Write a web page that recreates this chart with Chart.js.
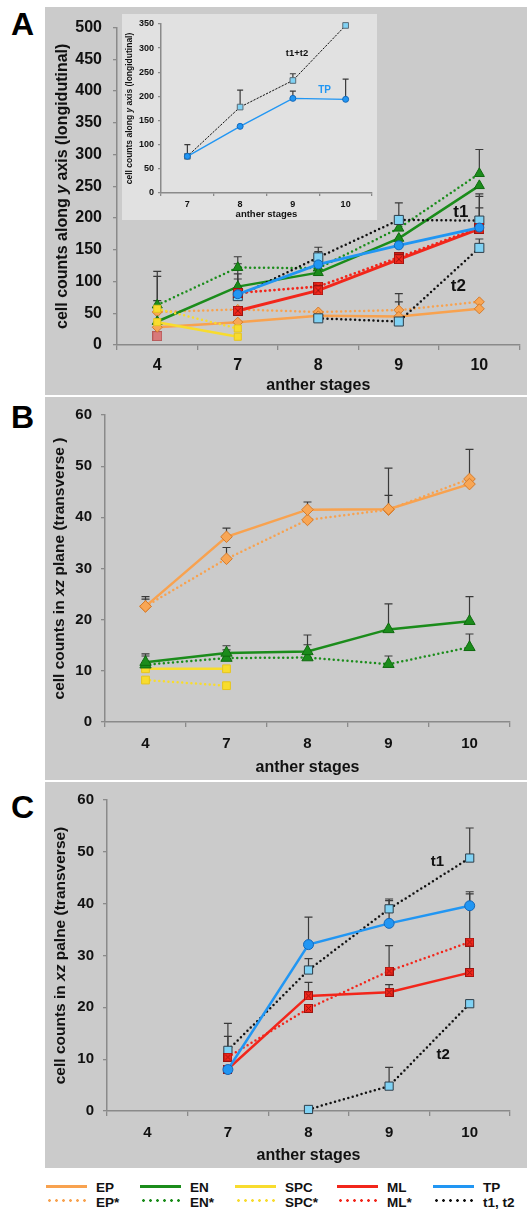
<!DOCTYPE html>
<html lang="en">
<head>
<meta charset="UTF-8" />
<title>Anther cell counts</title>
<script src="https://cdn.jsdelivr.net/npm/chart.js"></script>
<style>
  body { margin:0; background:#fff; width:527px; height:1210px; position:relative; overflow:hidden; font-family:"Liberation Sans", Arial, sans-serif; }
  .panel { position:absolute; left:45px; width:482px; background:#cbcbcb; }
  .panel canvas { display:block; position:absolute; left:0; top:0; }
  #inset { position:absolute; left:77px; top:7px; width:255px; height:206px; background:#e1e1e1; }
  .letter { position:absolute; left:11px; font-weight:bold; font-size:32px; line-height:1; color:#000; }
  .leg { position:absolute; font-size:13.5px; font-weight:bold; line-height:1; color:#111; }
  .sw { position:absolute; width:41px; height:3px; }
</style>
</head>
<body>

<div class="letter" style="top:8px">A</div>
<div class="letter" style="top:401px">B</div>
<div class="letter" style="top:791px">C</div>

<div class="panel" style="top:7px;height:388px">
  <canvas id="chartA" width="482" height="388"></canvas>
  <div id="inset"><canvas id="chartInset" width="255" height="206"></canvas></div>
</div>
<div class="panel" style="top:397px;height:383px">
  <canvas id="chartB" width="482" height="383"></canvas>
</div>
<div class="panel" style="top:782px;height:386px">
  <canvas id="chartC" width="482" height="386"></canvas>
</div>

<!-- legend -->
<div id="legend"></div>

<script>
  const FONT = '"Liberation Sans", Arial, sans-serif';

  const stages = ['4', '7', '8', '9', '10'];
  const insetStages = ['7', '8', '9', '10'];

  // Panel A: cell counts along y axis (longitudinal)
  const epA      = [28, 36, 46, 45, 57];
  const epStarA  = [52, 56, 52, 55, 68];
  const enA      = [37, 92, 114, 168, 251];
  const enStarA  = [63, 122, 121, 184, 270];
  const spcA     = [36, 13, null, null, null];
  const spcStarA = [57, 26, null, null, null];
  const mlA      = [null, 54, 86, 135, 183];
  const mlStarA  = [null, 82, 92, 138, 185];
  const mlEarlyA = [14, null, null, null, null];
  const tpA      = [null, 80, 127, 157, 185];
  const t1A      = [null, 77, 138, 197, 196];
  const t2A      = [null, null, 42, 37, 153];
  // upper ends of the error bars
  const enStarErrA = [116, 139, null, null, 308];
  const spcErrA    = [108, null, null, null, null];
  const enErrA     = [70, 128, null, null, null];
  const tpErrA     = [null, 112, 147, null, 216];
  const t1ErrA     = [null, 104, 154, 224, 238];
  const t2ErrA     = [null, null, null, 81, 167];
  const epErrA     = [null, null, null, 68, null];
  const mlErrA     = [null, null, null, null, 234];

  // inset: TP vs t1+t2
  const tpInset     = [76, 138, 196, 194];
  const tpInsetErr  = [100, null, 211, 236];
  const t12Inset    = [76, 178, 233, 347];
  const t12InsetErr = [null, 213, 247, null];

  // Panel B: cell counts in xz plane
  const epB         = [22.6, 36.2, 41.5, 41.6, 46.5];
  const epErrB      = [24.5, 37.9, 43.0, 49.6, 53.3];
  const epStarB     = [22.6, 31.9, 39.5, 41.5, 47.5];
  const epStarErrB  = [24.0, 34.1, null, 44.3, null];
  const enB         = [11.7, 13.5, 13.8, 18.1, 19.7];
  const enErrB      = [13.3, 14.9, 17.0, 23.1, 24.5];
  const enStarB     = [11.2, 12.5, 12.6, 11.3, 14.6];
  const enStarErrB  = [12.9, 14.1, 15.1, 12.9, 17.2];
  const spcB        = [10.4, 10.4, null, null, null];
  const spcStarB    = [8.2, 7.1, null, null, null];

  // Panel C: cell counts in xz plane
  const tpC        = [null, 8.0, 32.1, 36.2, 39.6];
  const tpErrC     = [null, null, 37.4, 40.6, 42.3];
  const mlC        = [null, 8.1, 22.2, 22.9, 26.7];
  const mlErrC     = [null, null, 24.8, 24.4, 41.9];
  const mlStarC    = [null, 10.4, 19.8, 27.0, 32.6];
  const mlStarErrC = [null, 14.4, null, 31.9, null];
  const t1C        = [null, 11.7, 27.2, 39.0, 48.8];
  const t1ErrC     = [null, 16.9, 29.4, 40.9, 54.6];
  const t2C        = [null, null, 0.3, 4.8, 20.7];
  const t2ErrC     = [null, null, null, 8.4, null];

  const C = {
    ep: '#f8a24f', epFill: '#f8a655', epEdge: '#d47a2a',
    en: '#1b8c1b', enEdge: '#0e6a0e',
    spc: '#f8dc2e', spcEdge: '#e6c51d',
    ml: '#f2261b', mlEdge: '#9c1410',
    tp: '#2196f3', tpEdge: '#1467b8',
    t: '#111111', tFill: '#80d2f4', tEdge: '#2e3d48',
    axis: '#8a8a8a', err: '#3a3a3a'
  };

  // small square marker, optionally crossed (ML)
  function boxMark(size, fill, edge, cross) {
    const c = document.createElement('canvas');
    c.width = c.height = size;
    const g = c.getContext('2d');
    g.fillStyle = fill;
    g.fillRect(0, 0, size, size);
    g.strokeStyle = edge;
    g.lineWidth = 1;
    g.strokeRect(0.5, 0.5, size - 1, size - 1);
    if (cross) {
      g.beginPath();
      g.moveTo(2, 2); g.lineTo(size - 2, size - 2);
      g.moveTo(size - 2, 2); g.lineTo(2, size - 2);
      g.stroke();
    }
    return c;
  }

  // error bars (upper only), drawn under the markers
  Chart.register({
    id: 'errorBars',
    beforeDatasetsDraw(chart) {
      const ctx = chart.ctx, ys = chart.scales.y;
      chart.data.datasets.forEach((ds, i) => {
        if (!ds.errTop) return;
        const meta = chart.getDatasetMeta(i);
        const cap = ds.errCap || 4;
        ctx.save();
        ctx.strokeStyle = C.err;
        ctx.lineWidth = ds.errWidth || 1.2;
        ds.errTop.forEach((top, k) => {
          if (top == null || ds.data[k] == null) return;
          const px = meta.data[k].x;
          const y0 = ys.getPixelForValue(ds.data[k]);
          const y1 = ys.getPixelForValue(top);
          ctx.beginPath();
          ctx.moveTo(px, y0); ctx.lineTo(px, y1);
          ctx.moveTo(px - cap, y1); ctx.lineTo(px + cap, y1);
          ctx.stroke();
        });
        ctx.restore();
      });
    }
  });

  // rotated y title with an italic part
  function yTitle(parts, x, size) {
    return {
      id: 'yTitle',
      afterDraw(chart) {
        const ctx = chart.ctx, a = chart.chartArea;
        ctx.save();
        ctx.translate(x, (a.top + a.bottom) / 2);
        ctx.rotate(-Math.PI / 2);
        ctx.fillStyle = '#111';
        ctx.textBaseline = 'middle';
        ctx.textAlign = 'left';
        const fonts = parts.map(p => (p.i ? 'italic ' : '') + 'bold ' + size + 'px ' + FONT);
        let total = 0;
        const widths = parts.map((p, k) => { ctx.font = fonts[k]; const w = ctx.measureText(p.t).width; total += w; return w; });
        let cx = -total / 2;
        parts.forEach((p, k) => { ctx.font = fonts[k]; ctx.fillText(p.t, cx, 0); cx += widths[k]; });
        ctx.restore();
      }
    };
  }

  // text labels placed in data coordinates
  function textMarks(marks) {
    return {
      id: 'textMarks',
      afterDatasetsDraw(chart) {
        const ctx = chart.ctx, xs = chart.scales.x, ys = chart.scales.y;
        marks.forEach(m => {
          ctx.save();
          ctx.font = 'bold ' + m.size + 'px ' + FONT;
          ctx.fillStyle = m.color || '#111';
          ctx.textAlign = 'center';
          ctx.textBaseline = 'middle';
          ctx.fillText(m.text, xs.getPixelForValue(m.at[0]), ys.getPixelForValue(m.at[1]));
          ctx.restore();
        });
      }
    };
  }

  function series(data, color, o) {
    const ds = {
      data: data,
      borderColor: color,
      borderWidth: o.width || 2.5,
      pointStyle: o.point || 'circle',
      pointRadius: o.radius || 5,
      pointBackgroundColor: o.fill || color,
      pointBorderColor: o.edge || color,
      pointBorderWidth: 1,
      tension: 0,
      spanGaps: false,
      clip: false,
      errTop: o.err || null,
      errCap: o.cap || 4
    };
    if (o.dotted) {
      ds.borderDash = o.dash || [0, 4.6];
      ds.borderCapStyle = 'round';
    }
    if (o.noLine) ds.showLine = false;
    return ds;
  }

  function frame(f) {
    const tickFont = { family: FONT, size: f.tick, weight: 'bold' };
    return {
      responsive: false,
      animation: false,
      events: [],
      layout: { padding: { top: f.top, right: f.right, left: 0, bottom: 0 } },
      plugins: { legend: { display: false }, tooltip: { enabled: false } },
      scales: {
        x: {
          offset: true,
          grid: { offset: true, drawOnChartArea: false, tickLength: f.xTickLen, color: C.axis, lineWidth: 1.3 },
          border: { color: C.axis, width: 1.5 },
          ticks: { font: tickFont, color: '#111', padding: f.xPad, maxRotation: 0 },
          title: { display: true, text: 'anther stages', color: '#111',
                   font: { family: FONT, size: f.xTitle, weight: 'bold' }, padding: { top: 0, bottom: f.xTitlePad } },
          afterFit(s) { s.height = f.xH; }
        },
        y: {
          min: 0, max: f.max,
          grid: { drawOnChartArea: false, tickLength: f.yTickLen, color: C.axis, lineWidth: 1.3 },
          border: { color: C.axis, width: 1.5 },
          ticks: { stepSize: f.step, font: tickFont, color: '#111', padding: f.yPad },
          afterFit(s) { s.width = f.yW; }
        }
      }
    };
  }

  const mlMarkA = boxMark(10, C.ml, C.mlEdge, true);
  const mlMarkC = boxMark(9, C.ml, C.mlEdge, true);
  const mlEarlyMark = boxMark(10, '#d8797a', '#b55a5a', false);

  // ---------- Panel A ----------
  // first dataset is drawn on top
  new Chart(document.getElementById('chartA'), {
    type: 'line',
    data: {
      labels: stages,
      datasets: [
        series(spcA, C.spc, { point: 'rect', radius: 5, edge: C.spcEdge, err: spcErrA }),
        series(spcStarA, C.spc, { point: 'rect', radius: 5, edge: C.spcEdge, dotted: true }),
        series(tpA, C.tp, { radius: 4.5, edge: C.tpEdge, err: tpErrA, width: 2.8 }),
        series(mlA, C.ml, { point: mlMarkA, err: mlErrA, width: 3 }),
        series(mlStarA, C.ml, { point: mlMarkA, dotted: true, width: 2.8 }),
        series(t1A, C.t, { point: 'rect', radius: 6.4, fill: C.tFill, edge: C.tEdge, dotted: true, err: t1ErrA }),
        series(t2A, C.t, { point: 'rect', radius: 6.4, fill: C.tFill, edge: C.tEdge, dotted: true, err: t2ErrA }),
        series(enA, C.en, { point: 'triangle', radius: 5.8, edge: C.enEdge, err: enErrA }),
        series(enStarA, C.en, { point: 'triangle', radius: 5.8, edge: C.enEdge, dotted: true, err: enStarErrA }),
        series(epA, C.ep, { point: 'rectRot', radius: 5, fill: C.epFill, edge: C.epEdge, err: epErrA }),
        series(epStarA, C.ep, { point: 'rectRot', radius: 5, fill: C.epFill, edge: C.epEdge, dotted: true }),
        series(mlEarlyA, C.ml, { point: mlEarlyMark, noLine: true })
      ]
    },
    options: frame({ top: 18, right: 3, yW: 72, xH: 50, max: 500, step: 50, tick: 16,
                     yPad: 11, yTickLen: 4, xPad: 6, xTickLen: 5, xTitle: 16, xTitlePad: 0 }),
    plugins: [
      yTitle([{ t: 'cell counts along ' }, { t: 'y', i: true }, { t: ' axis (longidutinal)' }], 18, 16),
      textMarks([{ text: 't1', at: [3.77, 209], size: 17 }, { text: 't2', at: [3.74, 92], size: 17 }])
    ]
  });

  // ---------- Inset ----------
  new Chart(document.getElementById('chartInset'), {
    type: 'line',
    data: {
      labels: insetStages,
      datasets: [
        series(tpInset, C.tp, { radius: 3, edge: C.tpEdge, width: 1.4, err: tpInsetErr, cap: 3 }),
        series(t12Inset, C.t, { point: 'rect', radius: 4, fill: C.tFill, edge: '#5a6a74', width: 1,
                                dotted: true, dash: [1.5, 2], err: t12InsetErr, cap: 3 })
      ]
    },
    options: frame({ top: 10, right: 4, yW: 39, xH: 27, max: 350, step: 50, tick: 9,
                     yPad: 4, yTickLen: 3, xPad: 3, xTickLen: 3, xTitle: 9.5, xTitlePad: 0 }),
    plugins: [
      yTitle([{ t: 'cell counts along ' }, { t: 'y', i: true }, { t: ' axis (longidutinal)' }], 8, 8.5),
      textMarks([{ text: 't1+t2', at: [2.08, 290], size: 9.5 }, { text: 'TP', at: [2.6, 213], size: 10, color: C.tp }])
    ]
  });

  // ---------- Panel B ----------
  new Chart(document.getElementById('chartB'), {
    type: 'line',
    data: {
      labels: stages,
      datasets: [
        series(enB, C.en, { point: 'triangle', radius: 6.5, edge: C.enEdge, err: enErrB }),
        series(enStarB, C.en, { point: 'triangle', radius: 6.5, edge: C.enEdge, dotted: true, err: enStarErrB }),
        series(epB, C.ep, { point: 'rectRot', radius: 5.8, fill: C.epFill, edge: C.epEdge, err: epErrB }),
        series(epStarB, C.ep, { point: 'rectRot', radius: 5.8, fill: C.epFill, edge: C.epEdge, dotted: true, err: epStarErrB }),
        series(spcB, C.spc, { point: 'rect', radius: 5.5, edge: C.spcEdge }),
        series(spcStarB, C.spc, { point: 'rect', radius: 5.5, edge: C.spcEdge, dotted: true })
      ]
    },
    options: frame({ top: 11, right: 17, yW: 60, xH: 58, max: 60, step: 10, tick: 15,
                     yPad: 9, yTickLen: 4, xPad: 8, xTickLen: 5, xTitle: 16, xTitlePad: 3 }),
    plugins: [
      yTitle([{ t: 'cell counts in ' }, { t: 'xz', i: true }, { t: ' plane (transverse )' }], 15, 15.5)
    ]
  });

  // ---------- Panel C ----------
  new Chart(document.getElementById('chartC'), {
    type: 'line',
    data: {
      labels: stages,
      datasets: [
        series(tpC, C.tp, { radius: 5, edge: C.tpEdge, err: tpErrC }),
        series(mlC, C.ml, { point: mlMarkC, err: mlErrC }),
        series(mlStarC, C.ml, { point: mlMarkC, dotted: true, err: mlStarErrC }),
        series(t1C, C.t, { point: 'rect', radius: 5.8, fill: C.tFill, edge: C.tEdge, dotted: true, err: t1ErrC }),
        series(t2C, C.t, { point: 'rect', radius: 5.8, fill: C.tFill, edge: C.tEdge, dotted: true, err: t2ErrC })
      ]
    },
    options: frame({ top: 12, right: 17, yW: 62, xH: 57, max: 60, step: 10, tick: 15,
                     yPad: 9, yTickLen: 4, xPad: 8, xTickLen: 5, xTitle: 16, xTitlePad: 3 }),
    plugins: [
      yTitle([{ t: 'cell counts in ' }, { t: 'xz', i: true }, { t: ' palne (transverse)' }], 16, 15.5),
      textMarks([{ text: 't1', at: [3.6, 48], size: 15 }, { text: 't2', at: [3.67, 10.8], size: 15 }])
    ]
  });

  // ---------- legend ----------
  const legendItems = [
    { label: 'EP',     color: C.ep,  dotted: false, x: 46,  row: 0 },
    { label: 'EP*',    color: C.ep,  dotted: true,  x: 46,  row: 1 },
    { label: 'EN',     color: C.en,  dotted: false, x: 140, row: 0 },
    { label: 'EN*',    color: C.en,  dotted: true,  x: 140, row: 1 },
    { label: 'SPC',    color: C.spc, dotted: false, x: 235, row: 0 },
    { label: 'SPC*',   color: C.spc, dotted: true,  x: 235, row: 1 },
    { label: 'ML',     color: C.ml,  dotted: false, x: 337, row: 0 },
    { label: 'ML*',    color: C.ml,  dotted: true,  x: 337, row: 1 },
    { label: 'TP',     color: C.tp,  dotted: false, x: 433, row: 0 },
    { label: 't1, t2', color: C.t,   dotted: true,  x: 433, row: 1 }
  ];
  const legend = document.getElementById('legend');
  legendItems.forEach(it => {
    const sw = document.createElement('div');
    sw.className = 'sw';
    sw.style.left = it.x + 'px';
    sw.style.top = (it.row ? 1199 : 1185) + 'px';
    if (it.dotted) {
      sw.style.background = 'radial-gradient(circle, ' + it.color + ' 1.1px, transparent 1.6px) repeat-x';
      sw.style.backgroundSize = '7px 3px';
    } else {
      sw.style.background = it.color;
      sw.style.height = '2.5px';
    }
    legend.appendChild(sw);
    const tx = document.createElement('div');
    tx.className = 'leg';
    tx.textContent = it.label;
    tx.style.left = (it.x + 50) + 'px';
    tx.style.top = (it.row ? 1195.5 : 1180.5) + 'px';
    legend.appendChild(tx);
  });
</script>
</body>
</html>
